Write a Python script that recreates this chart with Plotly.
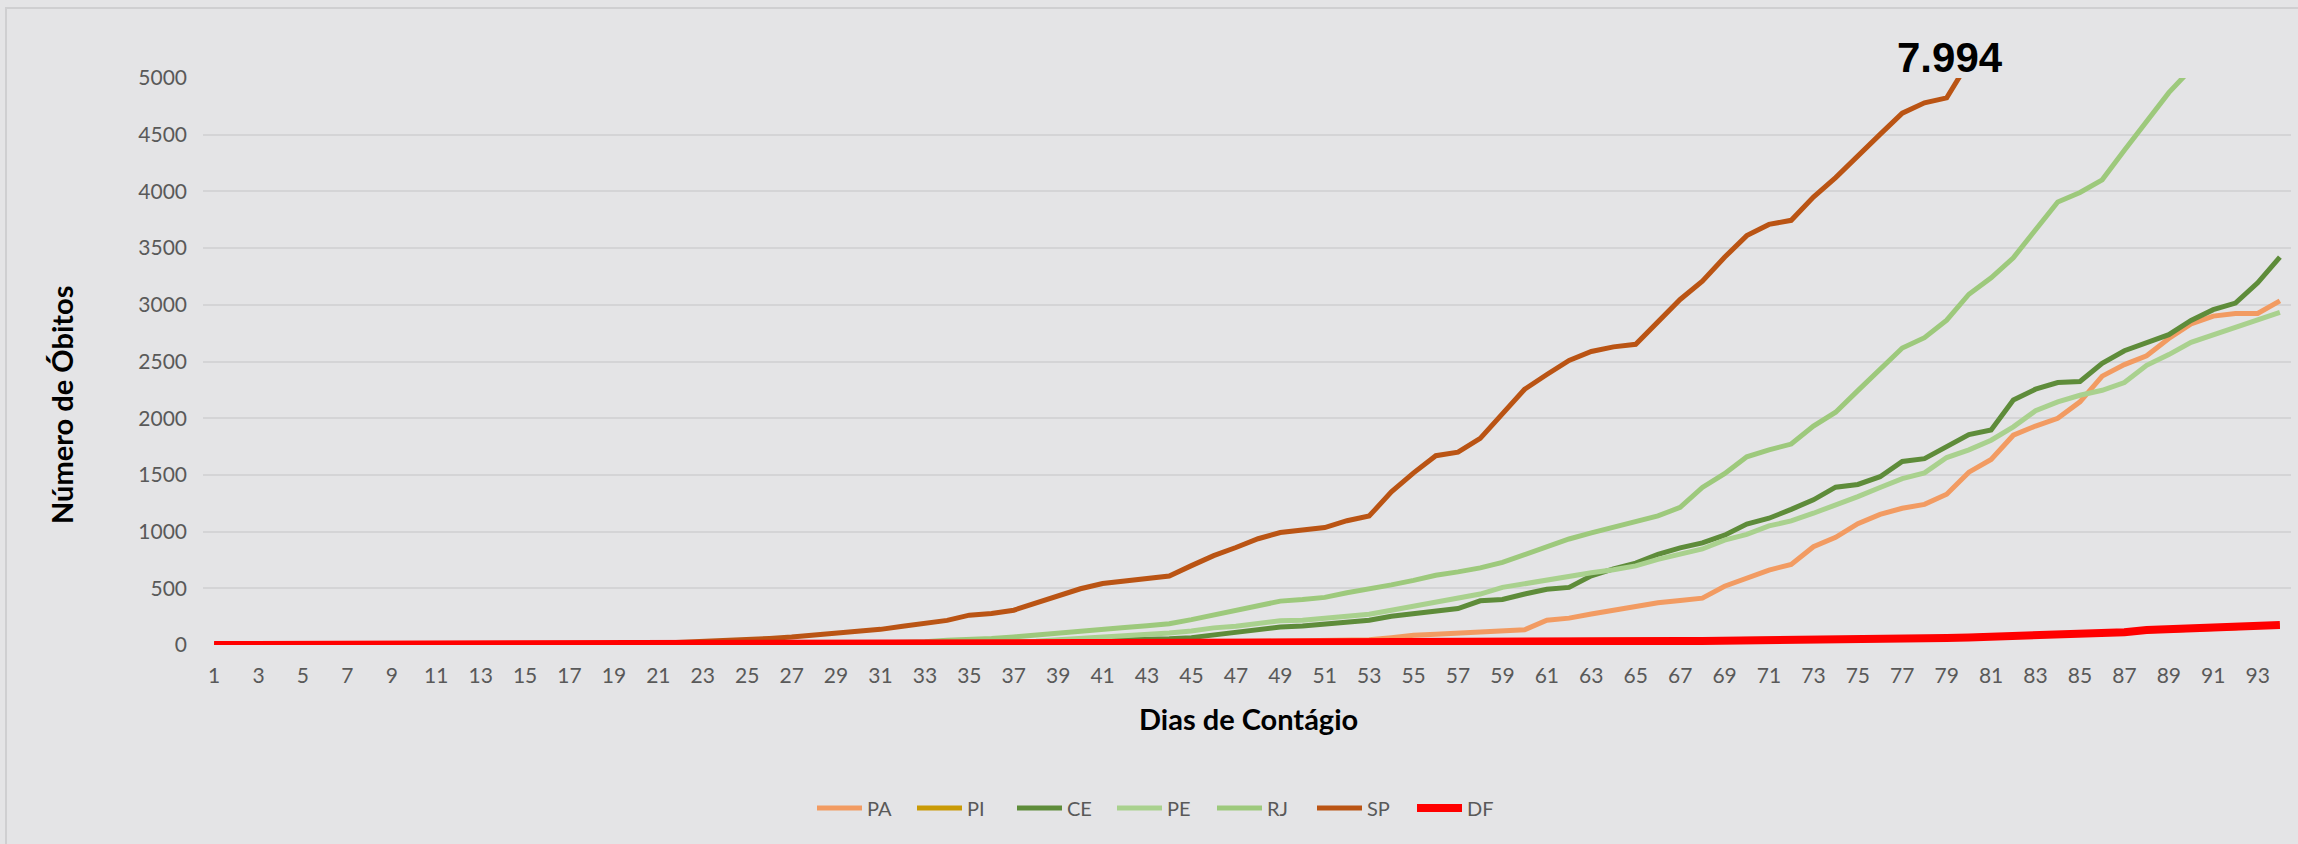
import plotly.graph_objects as go

days = list(range(1, 95))
tick_days = list(range(1, 94, 2))
tick_labels = [str(d) for d in tick_days]
y_ticks = list(range(0, 5001, 500))

PA = [0]*30 + [1, 2, 2, 3, 3, 5, 6, 8, 9, 11, 12, 14, 16, 18, 21, 24, 28, 31, 35, 38,
      40, 44, 47, 65, 86, 94, 106, 121, 130, 134, 218, 237, 274, 308, 332, 373, 393, 413, 518, 586,
      661, 711, 867, 949, 1070, 1152, 1206, 1240, 1330, 1524, 1636, 1850, 1931, 1999, 2144, 2371, 2473, 2551, 2703, 2832,
      2900, 2923, 2923, 3035]
PI = [0]*27 + [1, 2, 3, 4, 5, 6, 7, 8, 9, 10, 11, 12, 13,
      14, 15, 16, 17, 18, 19, 19, 20, 21, 22, 23, 23, 24, 25, 26, 26, 27, 28, 29, 30,
      31, 32, 33, 34, 35, 36, 37, 38, 40, 42, 44, 46, 48, 50, 53, 56, 60, 63, 66, 70,
      74, 80, 88, 97, 104, 109, 115, 130, 138, 141, 145, 153, 168, 174]
CE = [0]*25 + [1, 2, 3, 4, 5, 7, 8, 9, 12, 16, 20, 23, 26, 29, 36, 40, 43, 49, 55, 65,
      86, 109, 130, 159, 168, 183, 201, 218, 254, 278, 307, 322, 390, 401, 450, 491, 508, 610, 671, 722,
      800, 857, 901, 969, 1067, 1118, 1196, 1280, 1392, 1416, 1484, 1619, 1643, 1750, 1856, 1897, 2161, 2256, 2314, 2324,
      2483, 2595, 2669, 2737, 2862, 2957, 3015, 3194, 3421]
PE = [0]*25 + [1, 2, 3, 4, 6, 8, 10, 14, 16, 21, 22, 30, 34, 46, 56, 72, 80, 88, 106, 124,
      151, 166, 188, 213, 218, 233, 254, 272, 307, 343, 372, 410, 449, 508, 543, 575, 610, 637, 664, 698,
      755, 806, 847, 925, 976, 1050, 1094, 1162, 1230, 1308, 1389, 1467, 1518, 1653, 1721, 1806, 1924, 2066, 2144, 2202,
      2246, 2314, 2466, 2561, 2669, 2737, 2805, 2873, 2934]
RJ = [0]*23 + [2, 3, 4, 6, 9, 10, 13, 17, 23, 28, 41, 47, 58, 71, 89, 106, 122, 147, 155, 170, 188,
      224, 265, 300, 341, 387, 401, 420, 461, 490, 530, 570, 615, 645, 680, 728, 795, 867, 935, 989, 1037,
      1084, 1138, 1213, 1389, 1511, 1660, 1721, 1772, 1931, 2053, 2243, 2432, 2619, 2710, 2864, 3093, 3238, 3415, 3662, 3906,
      3991, 4102, 4363, 4617, 4871, 5079, 5344, 5462, 5686, 6010]
SP = [0]*16 + [1, 4, 7, 9, 15, 22, 30, 40, 48, 58, 70, 86, 100, 116, 138, 166, 187, 217, 263, 278,
      307, 373, 428, 496, 542, 562, 588, 608, 700, 788, 860, 937, 992, 1016, 1036, 1096, 1137, 1350, 1518, 1669,
      1701, 1822, 2045, 2255, 2385, 2510, 2588, 2629, 2652, 2854, 3047, 3209, 3419, 3610, 3709, 3745, 3950, 4122, 4318, 4503,
      4690, 4781, 4825, 5147, 5363, 5558, 5773, 6045, 6220, 6423, 6712, 6980, 7275, 7532, 7615, 7667, 7740, 7994]
DF = [0]*20 + [1, 1, 2, 3, 4, 5, 6, 7, 8, 8, 10, 11, 12, 13, 14, 15, 16, 16, 17, 17,
      18, 18, 19, 19, 20, 20, 21, 21, 22, 22, 23, 23, 24, 25, 26, 26, 27, 27, 28, 29,
      30, 31, 32, 33, 33, 34, 35, 36, 37, 40, 42, 44, 46, 48, 50, 52, 55, 58, 62, 67,
      72, 78, 86, 95, 100, 105, 112, 133, 141, 142, 146, 156, 172, 176]

series = [
    ("PA", PA, "#F29B62", 5),
    ("PI", PI, "#C99A06", 5),
    ("CE", CE, "#5E8C3A", 5),
    ("PE", PE, "#A9D18E", 5),
    ("RJ", RJ, "#9DC97C", 5),
    ("SP", SP, "#BA5414", 5),
    ("DF", DF, "#FF0000", 8),
]

W, H = 2298, 844
L, R, T, B = 203, 7, 78, 199
PW, PH = W - L - R, H - T - B


def px_x(px):
    return (px - L) / PW


def px_y(py):
    return (H - B - py) / PH


fig = go.Figure()
for name, vals, color, width in series:
    fig.add_trace(go.Scatter(
        x=days, y=vals, name=name, mode="lines",
        line=dict(color=color, width=width, shape="linear"),
        hoverinfo="x+y+name",
    ))

tick_font = dict(family="Lato, 'Open Sans', sans-serif", size=21, color="#595959")
title_font = dict(family="Lato, 'Open Sans', sans-serif", size=29, color="#000000")

fig.update_layout(
    width=W, height=H,
    margin=dict(l=L, r=R, t=T, b=B, pad=0),
    paper_bgcolor="#E4E4E6",
    plot_bgcolor="#E4E4E6",
    showlegend=True,
    legend=dict(
        orientation="h", x=px_x(1162), xanchor="center", y=px_y(808), yanchor="middle",
        font=dict(family="Lato, 'Open Sans', sans-serif", size=20, color="#595959"),
        bgcolor="rgba(0,0,0,0)", itemwidth=45, entrywidth=40, entrywidthmode="pixels",
        traceorder="normal",
    ),
    xaxis=dict(
        range=[0.5, 94.5], tickmode="array", tickvals=tick_days, ticktext=tick_labels,
        showgrid=False, zeroline=False, showline=False, ticks="",
        tickfont=tick_font, ticklabelstandoff=16, fixedrange=True,
    ),
    yaxis=dict(
        range=[0, 5000], tickmode="array", tickvals=y_ticks, ticktext=[str(v) for v in y_ticks],
        showgrid=True, gridcolor="#D4D4D6", gridwidth=2, zeroline=False, showline=False, ticks="",
        tickfont=tick_font, ticklabelstandoff=15, fixedrange=True,
    ),
    shapes=[dict(
        type="rect", xref="paper", yref="paper",
        x0=px_x(6), x1=px_x(2310), y0=px_y(860), y1=px_y(8),
        line=dict(color="#CFCFD1", width=2), fillcolor="rgba(0,0,0,0)", layer="below",
    )],
    annotations=[
        dict(text="<b>Número de Óbitos</b>", xref="paper", yref="paper",
             x=px_x(61), y=px_y(405), xanchor="center", yanchor="middle",
             textangle=-90, showarrow=False, font=title_font),
        dict(text="<b>Dias de Contágio</b>", xref="paper", yref="paper",
             x=px_x(1248), y=px_y(719), xanchor="center", yanchor="middle",
             showarrow=False, font=title_font),
        dict(text="<b>7.994</b>", xref="paper", yref="paper",
             x=px_x(1950), y=px_y(57), xanchor="center", yanchor="middle",
             showarrow=False, font=dict(family="'Liberation Sans', Arial, sans-serif", size=42, color="#000000")),
    ],
)

fig.write_html(
    "out.html",
    config={"displayModeBar": False},
    post_script="document.body.style.margin='0';document.body.style.overflow='hidden';",
)
